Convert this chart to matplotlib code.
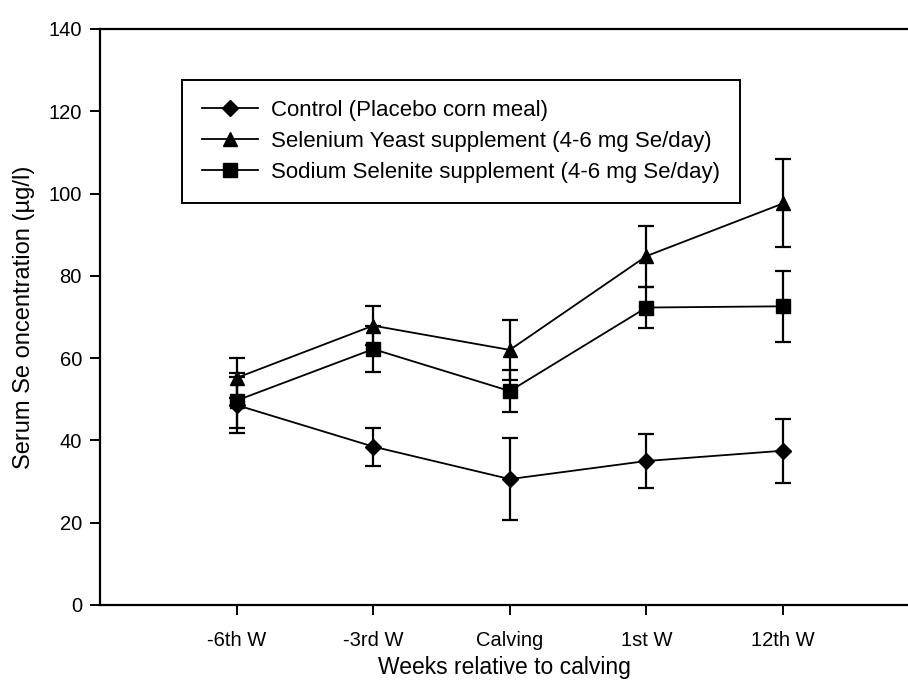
import matplotlib.pyplot as plt
from matplotlib.lines import Line2D
import numpy as np

plt.rcParams['font.family'] = ['Liberation Sans', 'DejaVu Sans']

# Sampling times relative to calving
weeks = ['-6th W', '-3rd W', 'Calving', '1st W', '12th W']

# Serum Se (µg/l): group means and standard errors
control_mean = [48.6, 38.5, 30.6, 35.0, 37.5]
control_se = [6.7, 4.6, 9.9, 6.5, 7.8]
yeast_mean = [55.2, 67.9, 62.0, 84.8, 97.6]
yeast_se = [4.8, 4.8, 7.2, 7.4, 10.7]
selenite_mean = [49.7, 62.2, 52.0, 72.3, 72.6]
selenite_se = [6.8, 5.6, 5.2, 5.0, 8.7]

labels = ['Control (Placebo corn meal)',
          'Selenium Yeast supplement (4-6 mg Se/day)',
          'Sodium Selenite supplement (4-6 mg Se/day)']

W, H = 908, 685
fig = plt.figure(figsize=(W / 100, H / 100), dpi=100)
ax = fig.add_axes([100 / W, (H - 605) / H, 808 / W, 576 / H])

x = np.arange(1, len(weeks) + 1)
series = [(control_mean, control_se, 'D', 8.5),
          (yeast_mean, yeast_se, '^', 9.5),
          (selenite_mean, selenite_se, 's', 9.5)]

handles = []
for (m, se, mk, ms), lab in zip(series, labels):
    ax.errorbar(x, m, yerr=se, color='black', marker=mk, markersize=ms,
                linewidth=1.3, elinewidth=1.6, capsize=5.5, capthick=1.6,
                zorder=3)
    handles.append(Line2D([], [], color='black', marker=mk, markersize=ms,
                          linewidth=1.3))

ax.set_xlim(0, 808 / 136.6)
ax.set_ylim(0, 140)
ax.set_xticks(x)
ax.set_xticklabels(weeks)
ax.set_yticks(np.arange(0, 141, 20))

for side in ['left', 'bottom', 'top']:
    ax.spines[side].set_linewidth(1.6)
ax.spines['right'].set_visible(False)
ax.tick_params(direction='out', length=7, width=1.4, labelsize=14.5, pad=6)
ax.tick_params(axis='x', pad=12)

ax.set_xlabel('Weeks relative to calving', fontsize=16.5, labelpad=4)
ax.set_ylabel('Serum Se oncentration (µg/l)', fontsize=17, labelpad=10)

leg = ax.legend(handles=handles, labels=labels, loc='upper left',
                bbox_to_anchor=(82 / 808, (605 - 80) / 576), borderaxespad=0,
                fontsize=16, frameon=True, fancybox=False, framealpha=1,
                edgecolor='black', handlelength=2.5, handletextpad=0.6,
                labelspacing=0.45, borderpad=0.9)
leg.get_frame().set_linewidth(1.4)

fig.savefig('out.png', dpi=100)
